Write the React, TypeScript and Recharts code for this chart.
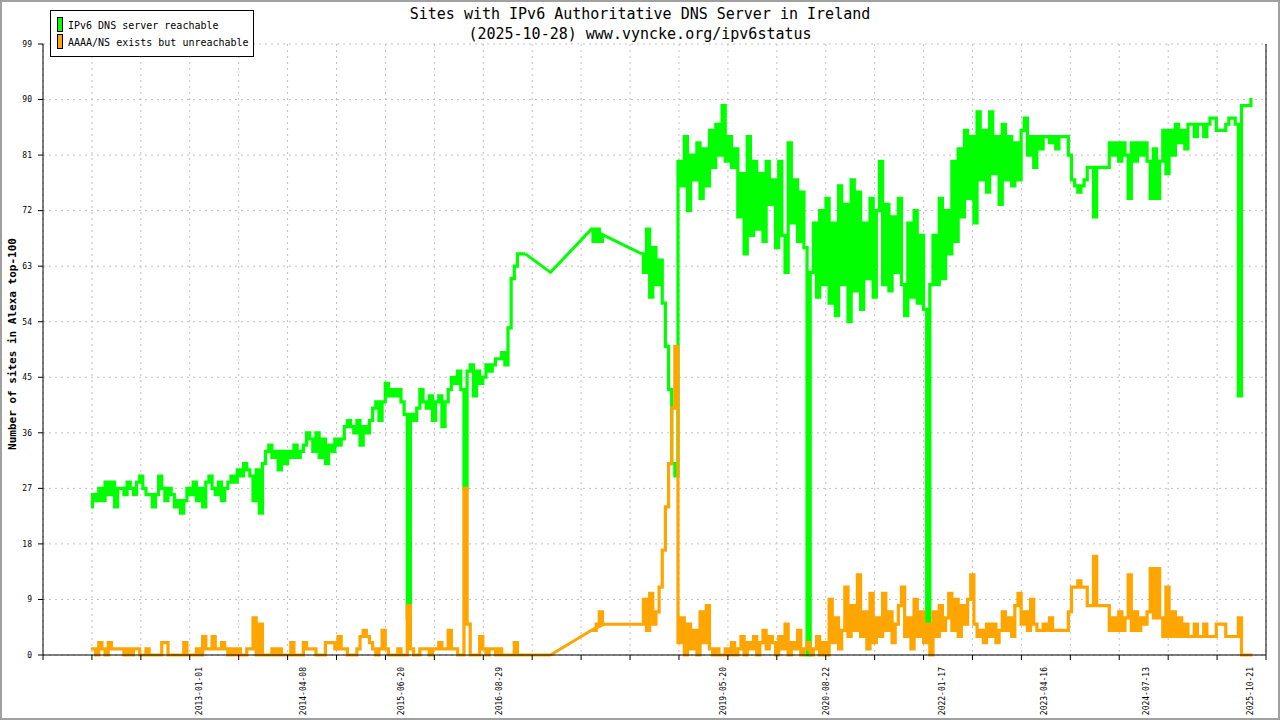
import { CartesianGrid, Line, LineChart, ReferenceLine, XAxis, YAxis } from "recharts";

const MONO = '"DejaVu Sans Mono", "Liberation Mono", monospace';
const DAY = 86400000;

// samples every two weeks, first one on 2011-09-08
const FIRST_DATE = Date.UTC(2011, 8, 8);
const STEP_DAYS = 14;

// x axis range and its 25 tick intervals
const AXIS_START = Date.UTC(2011, 1, 7);
const AXIS_END = Date.UTC(2025, 11, 29);
const TICK_COUNT = 25;

const LABEL_DATES = [
  "2013-01-01",
  "2014-04-08",
  "2015-06-20",
  "2016-08-29",
  "2019-05-20",
  "2020-08-22",
  "2022-01-17",
  "2023-04-16",
  "2024-07-13",
  "2025-10-21",
];

const Y_TICKS = [0, 9, 18, 27, 36, 45, 54, 63, 72, 81, 90, 99];

// IPv6 DNS server reachable (null = no sample, the line bridges the gap)
const reachable: (number | null)[] = [
  24, 26, 25, 27, 25, 28, 26, 28, 24, 27,
  27, 26, 28, 27, 26, 28, 29, 27, 26, 26,
  24, 26, 29, 27, 25, 27, 26, 24, 25, 23,
  25, 27, 26, 28, 25, 27, 24, 28, 29, 27,
  26, 28, 25, 27, 28, 29, 28, 30, 29, 31,
  30, 29, 25, 30, 23, 31, 33, 34, 32, 33,
  30, 33, 31, 33, 32, 34, 32, 33, 34, 36,
  35, 33, 36, 32, 35, 31, 34, 33, 35, 34,
  35, 37, 38, 37, 36, 38, 34, 37, 36, 38,
  40, 41, 38, 41, 44, 42, 43, 42, 43, 41,
  39, 6, 39, 38, 40, 43, 41, 40, 42, 38,
  41, 42, 37, 41, 43, 45, 44, 46, 43, 27,
  46, 47, 42, 46, 44, 45, 47, 46, 47, 48,
  48, 49, 47, 53, 61, 63, 65, 65, 65, null,
  null, null, null, null, null, null, 62, null, null, null,
  null, null, null, null, null, null, null, null, null, 69,
  67, 69, 67, 68, null, null, null, null, null, null,
  null, null, null, null, null, 65, 62, 69, 58, 66,
  60, 64, 57, 50, 43, 31, 29, 80, 76, 84,
  72, 81, 77, 83, 74, 82, 76, 85, 79, 86,
  81, 89, 80, 84, 79, 82, 71, 78, 65, 84,
  68, 80, 69, 78, 67, 80, 73, 77, 66, 80,
  68, 62, 83, 70, 77, 67, 75, 66, 0, 62,
  70, 58, 72, 60, 74, 57, 70, 55, 76, 60,
  73, 54, 77, 59, 75, 56, 70, 61, 74, 58,
  72, 80, 60, 73, 59, 71, 62, 74, 60, 55,
  70, 58, 72, 57, 68, 56, 5, 60, 68, 60,
  74, 61, 72, 65, 80, 67, 82, 71, 85, 74,
  84, 70, 88, 77, 85, 75, 88, 78, 84, 73,
  86, 77, 84, 76, 83, 77, 85, 87, 81, 84,
  79, 84, 82, 84, 84, 83, 84, 82, 84, 84,
  84, 81, 77, 76, 75, 76, 77, 79, 79, 71,
  79, 79, 79, 79, 83, 81, 83, 80, 83, 81,
  74, 83, 80, 83, 81, 83, 80, 74, 82, 74,
  80, 85, 78, 85, 81, 86, 83, 85, 82, 86,
  86, 84, 86, 86, 84, 86, 87, 87, 85, 85,
  85, 86, 87, 87, 86, 42, 89, 89, 89, 90,
];

// AAAA/NS exists but unreachable
const unreachable: (number | null)[] = [
  1, 1, 0, 2, 1, 0, 2, 1, 1, 1,
  1, 0, 1, 0, 1, 1, 0, 0, 1, 0,
  0, 0, 0, 2, 2, 0, 0, 0, 0, 0,
  2, 0, 0, 0, 1, 0, 3, 1, 1, 3,
  1, 1, 2, 1, 0, 1, 0, 1, 0, 0,
  1, 1, 6, 0, 5, 0, 0, 0, 1, 0,
  1, 0, 0, 0, 2, 0, 0, 0, 2, 1,
  1, 1, 0, 0, 0, 2, 2, 2, 1, 3,
  1, 1, 0, 0, 0, 1, 3, 4, 3, 2,
  1, 0, 1, 4, 1, 0, 0, 0, 1, 0,
  0, 8, 1, 0, 0, 1, 1, 1, 0, 1,
  1, 2, 1, 1, 4, 1, 1, 0, 0, 27,
  5, 0, 0, 0, 3, 1, 0, 1, 1, 0,
  1, 0, 0, 0, 0, 2, 0, 0, 0, null,
  null, null, null, null, null, null, 0, null, null, null,
  null, null, null, null, null, null, null, null, null, 4,
  4, 5, 7, 5, null, null, null, null, null, null,
  null, null, null, null, null, 5, 9, 4, 10, 5,
  7, 11, 17, 24, 31, 40, 50, 2, 6, 0,
  5, 1, 4, 0, 7, 2, 8, 1, 0, 1,
  0, 0, 1, 0, 2, 0, 1, 3, 0, 2,
  1, 3, 0, 2, 4, 1, 3, 2, 0, 3,
  1, 5, 0, 2, 1, 4, 0, 1, 2, 0,
  1, 3, 0, 2, 0, 9, 2, 6, 1, 4,
  11, 3, 8, 4, 13, 3, 7, 1, 10, 2,
  6, 3, 10, 4, 7, 2, 5, 8, 11, 3,
  6, 1, 9, 3, 7, 2, 5, 0, 7, 3,
  8, 4, 6, 10, 4, 9, 3, 8, 5, 9,
  13, 5, 3, 4, 2, 5, 3, 5, 2, 4,
  7, 4, 6, 3, 8, 10, 5, 7, 4, 9,
  5, 4, 4, 5, 4, 6, 4, 4, 4, 4,
  4, 7, 11, 11, 12, 11, 11, 8, 8, 16,
  8, 8, 8, 8, 4, 6, 4, 7, 4, 6,
  13, 4, 7, 4, 6, 5, 7, 14, 6, 14,
  6, 3, 11, 3, 7, 3, 6, 3, 5, 3,
  3, 5, 3, 3, 5, 3, 3, 3, 5, 5,
  5, 3, 3, 3, 3, 6, 0, 0, 0, 0,
];

// samples that sit next to a missing stretch; joined by straight lines
const gapEnds = (arr: (number | null)[]) =>
  arr.map((v, i) =>
    v !== null && (arr[i - 1] === null || arr[i + 1] === null) ? v : null
  );
const reachableGap = gapEnds(reachable);
const unreachableGap = gapEnds(unreachable);

const data = reachable.map((value, i) => ({
  t: FIRST_DATE + i * STEP_DAYS * DAY,
  reachable: value,
  unreachable: unreachable[i],
  reachableGap: reachableGap[i],
  unreachableGap: unreachableGap[i],
}));

const gridTicks = Array.from(
  { length: TICK_COUNT + 1 },
  (_, k) => AXIS_START + (k * (AXIS_END - AXIS_START)) / TICK_COUNT
);

function EmptyTick() {
  return <g />;
}

function DateLabel(props: any) {
  const { viewBox, text } = props;
  const x = viewBox.x;
  const y = viewBox.y + viewBox.height + 12;
  return (
    <text
      transform={`translate(${x},${y}) rotate(-90)`}
      textAnchor="end"
      dy="0.35em"
      fontSize={8}
      fontFamily={MONO}
      fill="#000"
    >
      {text}
    </text>
  );
}

function Swatch({ color, top }: { color: string; top: number }) {
  return (
    <div
      style={{
        position: "absolute",
        left: 6,
        top,
        width: 4,
        height: 13,
        background: color,
        border: "1px solid #000",
      }}
    />
  );
}

export default function App() {
  return (
    <div
      style={{
        position: "absolute",
        left: 0,
        top: 0,
        width: 1280,
        height: 720,
        background: "#fff",
        fontFamily: MONO,
        color: "#000",
      }}
    >
      <LineChart
        width={1280}
        height={720}
        data={data}
        margin={{ top: 44, right: 14, bottom: 0, left: 0 }}
      >
        <CartesianGrid stroke="#c0c0c0" strokeDasharray="2 4" />
        <XAxis
          dataKey="t"
          type="number"
          domain={[AXIS_START, AXIS_END]}
          allowDataOverflow
          ticks={gridTicks}
          interval={0}
          tick={EmptyTick}
          tickSize={5}
          height={65}
          axisLine={{ stroke: "#000" }}
          tickLine={{ stroke: "#000" }}
        />
        <YAxis
          type="number"
          domain={[0, 99]}
          ticks={Y_TICKS}
          interval={0}
          width={43}
          tickSize={5}
          tickMargin={6}
          tick={{ fontSize: 8, fontFamily: MONO, fill: "#000" }}
          axisLine={{ stroke: "#000" }}
          tickLine={{ stroke: "#000" }}
        />
        <ReferenceLine x={AXIS_END} stroke="#000" />
        {LABEL_DATES.map((d) => (
          <ReferenceLine
            key={d}
            x={Date.parse(d)}
            stroke="none"
            label={<DateLabel text={d} />}
          />
        ))}
        <Line
          type="step"
          dataKey="reachable"
          stroke="#00ff00"
          strokeWidth={3.2}
          dot={false}
          activeDot={false}
          isAnimationActive={false}
        />
        <Line
          type="linear"
          dataKey="reachableGap"
          stroke="#00ff00"
          strokeWidth={3}
          dot={false}
          activeDot={false}
          connectNulls
          isAnimationActive={false}
        />
        <Line
          type="step"
          dataKey="unreachable"
          stroke="#ffa500"
          strokeWidth={3.2}
          dot={false}
          activeDot={false}
          isAnimationActive={false}
        />
        <Line
          type="linear"
          dataKey="unreachableGap"
          stroke="#ffa500"
          strokeWidth={3}
          dot={false}
          activeDot={false}
          connectNulls
          isAnimationActive={false}
        />
      </LineChart>

      <div
        style={{
          position: "absolute",
          left: 0,
          top: 4,
          width: 1280,
          textAlign: "center",
          fontSize: 15,
          lineHeight: "20px",
          whiteSpace: "pre",
        }}
      >
        <div>Sites with IPv6 Authoritative DNS Server in Ireland</div>
        <div>(2025-10-28) www.vyncke.org/ipv6status</div>
      </div>

      <div
        style={{
          position: "absolute",
          left: 50,
          top: 10,
          width: 202,
          height: 45,
          background: "#fff",
          border: "1px solid #000",
          fontSize: 10,
          whiteSpace: "pre",
        }}
      >
        <Swatch color="#00ff00" top={6} />
        <div style={{ position: "absolute", left: 17, top: 7, lineHeight: "16px" }}>
          IPv6 DNS server reachable
        </div>
        <Swatch color="#ffa500" top={23} />
        <div style={{ position: "absolute", left: 17, top: 24, lineHeight: "16px" }}>
          AAAA/NS exists but unreachable
        </div>
      </div>

      <div
        style={{
          position: "absolute",
          left: 12.5 - 150,
          top: 344 - 8,
          width: 300,
          height: 16,
          lineHeight: "16px",
          textAlign: "center",
          fontSize: 11,
          fontWeight: "bold",
          transform: "rotate(-90deg)",
          whiteSpace: "pre",
        }}
      >
        Number of sites in Alexa top-100
      </div>

      <div
        style={{
          position: "absolute",
          left: 0,
          top: 0,
          width: 1280,
          height: 720,
          boxSizing: "border-box",
          border: "2px solid #a0a0a0",
          pointerEvents: "none",
        }}
      />
    </div>
  );
}
